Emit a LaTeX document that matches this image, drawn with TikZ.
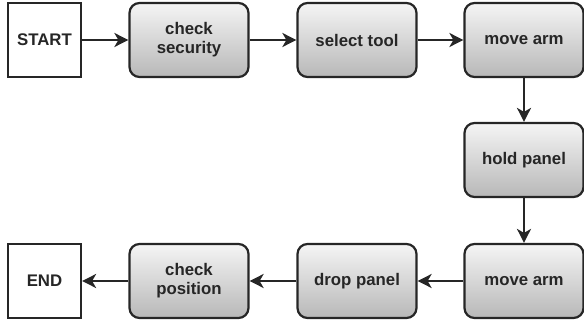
\documentclass[tikz,border=0pt]{standalone}
\usepackage{fontspec}
\setmainfont{Liberation Sans}
\usetikzlibrary{arrows.meta,shadings}
\tikzset{
  base/.style={draw=black!85, line width=2.2pt, minimum height=74pt,
    font=\fontsize{16.8}{19}\selectfont\bfseries, align=center, text=black!85,
    inner sep=2pt},
  terminal/.style={base, fill=white, minimum width=73pt},
  stepbox/.style={base, rounded corners=10pt, minimum width=119pt,
    top color=black!4, bottom color=black!28},
  flow/.style={line width=2.2pt, draw=black!85,
    -{Stealth[length=14pt,width=14pt,inset=4pt]}},
}
\begin{document}
\begin{tikzpicture}[x=1pt,y=1pt]
  \useasboundingbox (0,0) rectangle (584,322);
  % top row (y measured upward)
  \node[terminal] (start) at (44.5,282) {START};
  \node[stepbox] (sec)   at (189,282) {check\\security};
  \node[stepbox] (tool)  at (357,282) {select tool};
  \node[stepbox] (arm1)  at (524,282) {move arm};
  % right column
  \node[stepbox] (hold)  at (524,162) {hold panel};
  % bottom row
  \node[stepbox] (arm2)  at (524,41) {move arm};
  \node[stepbox] (drop)  at (357,41) {drop panel};
  \node[stepbox] (pos)   at (189,41) {check\\position};
  \node[terminal] (stop) at (44.5,41) {END};
  % connectors
  \draw[flow] (start) -- (sec);
  \draw[flow] (sec) -- (tool);
  \draw[flow] (tool) -- (arm1);
  \draw[flow] (arm1) -- (hold);
  \draw[flow] (hold) -- (arm2);
  \draw[flow] (arm2) -- (drop);
  \draw[flow] (drop) -- (pos);
  \draw[flow] (pos) -- (stop);
\end{tikzpicture}
\end{document}
